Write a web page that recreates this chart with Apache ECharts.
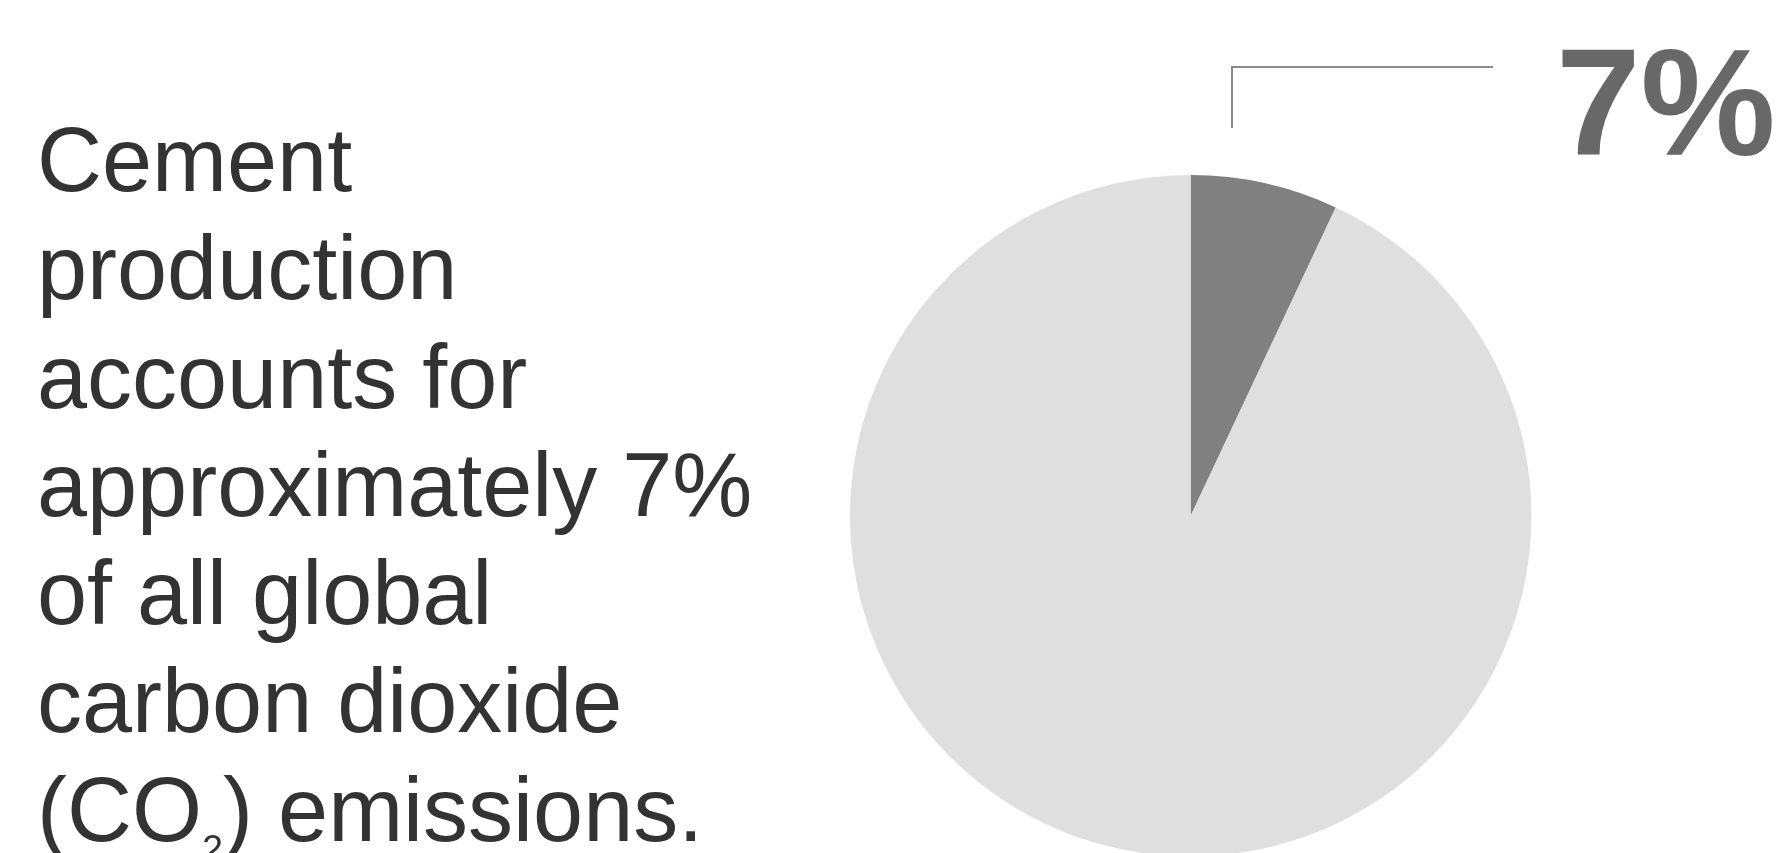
<!DOCTYPE html>
<html>
<head>
<meta charset="utf-8">
<script src="https://cdn.jsdelivr.net/npm/echarts@6/dist/echarts.min.js"></script>
<style>
  html, body { margin: 0; padding: 0; background: #fff; }
  #chart { width: 1781px; height: 853px; }
</style>
</head>
<body>
<div id="chart"></div>
<script>
// share of global CO2 emissions
var categories = ['Cement production', 'Everything else'];
var shares = [7, 93];
var sliceColors = ['#808080', '#dfdfdf'];

var myChart = echarts.init(document.getElementById('chart'));

var option = {
  animation: false,
  graphic: [
    {
      type: 'text',
      left: 37,
      top: 112,
      style: {
        text: 'Cement\nproduction\naccounts for\napproximately 7%\nof all global\ncarbon dioxide\n(CO{sub|2}) emissions.',
        font: '90px "Liberation Sans", Arial, sans-serif',
        fill: '#333333',
        lineHeight: 108.3,
        rich: {
          sub: {
            fontSize: 38,
            fontFamily: '"Liberation Sans", Arial, sans-serif',
            fill: '#333333',
            lineHeight: -20,
            verticalAlign: 'bottom'
          }
        }
      }
    }
  ],
  series: [
    {
      type: 'pie',
      center: [1190.7, 515.7],
      radius: 340.7,
      startAngle: 90,
      clockwise: true,
      silent: true,
      data: categories.map(function (name, i) {
        return {
          name: name,
          value: shares[i],
          itemStyle: { color: sliceColors[i] },
          label: { show: i === 0 },
          labelLine: { show: i === 0 }
        };
      }),
      label: {
        position: 'outside',
        formatter: function (p) { return p.value + '%'; },
        fontFamily: '"Liberation Sans", Arial, sans-serif',
        fontWeight: 'bold',
        fontSize: 152,
        color: '#686868'
      },
      labelLine: {
        show: true,
        lineStyle: { color: '#8a8a8a', width: 2 }
      },
      labelLayout: function (params) {
        return {
          x: 1556,
          y: 113.5,
          align: 'left',
          verticalAlign: 'middle',
          labelLinePoints: [[1232, 128], [1232, 67], [1493, 67]]
        };
      }
    }
  ]
};

myChart.setOption(option);
</script>
</body>
</html>
